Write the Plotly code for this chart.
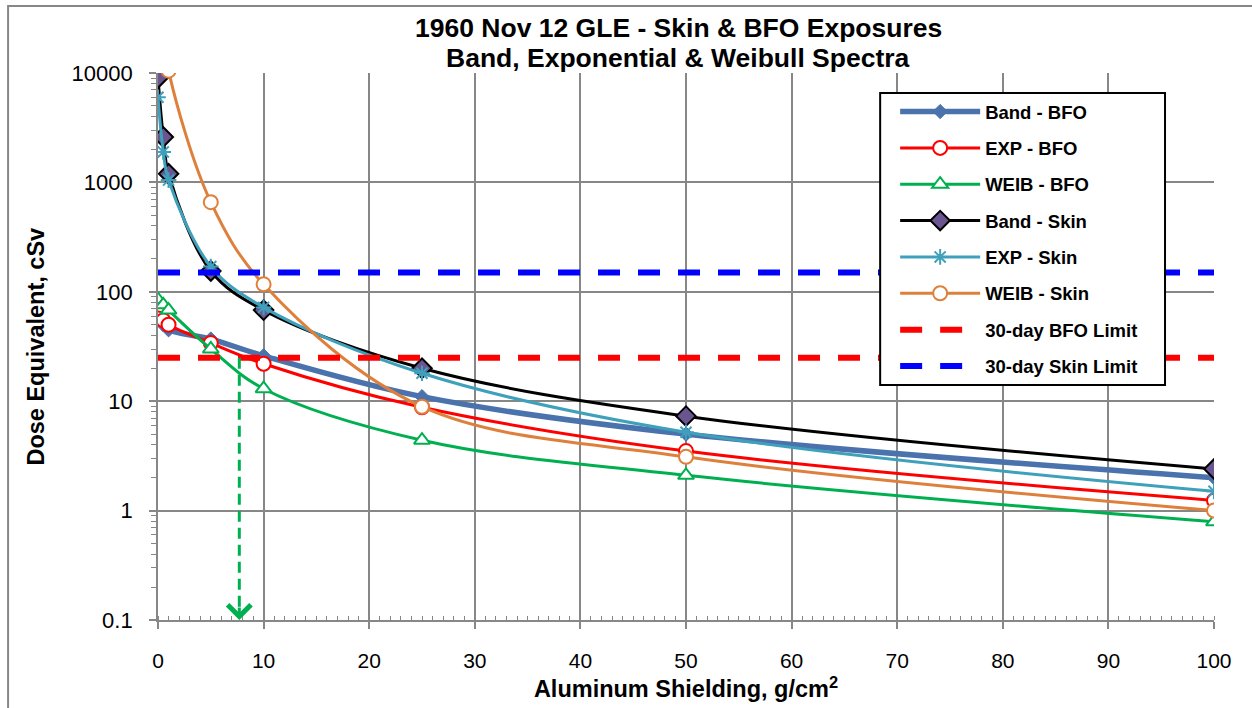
import plotly.graph_objects as go
import math

# ---------------- data ----------------
shielding = [0, 0.5, 1, 5, 10, 25, 50, 100]   # g/cm2

band_bfo  = [56, 50, 45, 37, 26, 11, 5.0, 2.0]
exp_bfo   = [57, 55, 50, 34, 22, 8.8, 3.5, 1.24]
weib_bfo  = [85, 76, 68, 30, 13, 4.4, 2.1, 0.79]
band_skin = [9000, 2600, 1200, 155, 68, 20, 7.3, 2.4]
exp_skin  = [6000, 1900, 1050, 170, 72, 18, 5.2, 1.5]
weib_skin = [60000, 25000, 10500, 660, 117, 8.9, 3.1, 1.0]

limit_x = [0, 100]
bfo_limit = 25
skin_limit = 150

# arrow marking the shielding needed for WEIB - BFO to reach the BFO limit
arrow_x = 7.7
arrow_top = 25
arrow_bottom = 0.1

y_tickvals = [0.1, 1, 10, 100, 1000, 10000]
y_ticktext = ["0.1", "1", "10", "100", "1000", "10000"]
x_tickvals = list(range(0, 101, 10))

title_lines = ["1960 Nov 12 GLE - Skin & BFO Exposures", "Band, Exponential & Weibull Spectra"]
x_title = "Aluminum Shielding, g/cm<sup>2</sup>"
y_title = "Dose Equivalent, cSv"

# ---------------- layout geometry (pixels) ----------------
W, H = 1252, 708
L, R, T, B = 157.5, 1214, 73, 620
pw, ph = R - L, B - T

def px2paper_x(px):
    return (px - L) / pw

def px2paper_y(py):
    return (B - py) / ph

FONT = "Liberation Sans, Arial, sans-serif"
GRID = "#878787"
PAD = "\u00a0\u00a0"   # widen gap between y tick labels and axis

fig = go.Figure()

def add(name, y, color, width, symbol, msize, mfill, mline, mlw, group):
    fig.add_trace(go.Scatter(
        x=shielding, y=y, name=name, mode="lines+markers",
        line=dict(color=color, width=width, shape="spline", smoothing=1),
        marker=dict(symbol=symbol, size=msize, color=mfill,
                    line=dict(color=mline, width=mlw)),
        legendgroup=group, cliponaxis=True,
    ))

add("Band - BFO", band_bfo, "#4A72AC", 5.5, "diamond", 11, "#4A72AC", "#4A72AC", 1, "g1")
add("EXP - BFO", exp_bfo, "#FF0000", 3, "circle", 14, "white", "#FF0000", 2, "g2")
add("WEIB - BFO", weib_bfo, "#00B050", 3, "triangle-up", 14, "white", "#00B050", 2, "g3")
add("Band - Skin", band_skin, "#000000", 3, "diamond", 15, "#6A5590", "#000000", 2, "g4")
add("EXP - Skin", exp_skin, "#3FA0BC", 3, "asterisk-open", 13, "#3FA0BC", "#3FA0BC", 2, "g5")
add("WEIB - Skin", weib_skin, "#DE803C", 3, "circle", 14, "white", "#DE803C", 2, "g6")

fig.add_trace(go.Scatter(
    x=limit_x, y=[bfo_limit] * len(limit_x), name="30-day BFO Limit", mode="lines",
    line=dict(color="#FF0000", width=6, dash="22px,18px"), legendgroup="g7"))
fig.add_trace(go.Scatter(
    x=limit_x, y=[skin_limit] * len(limit_x), name="30-day Skin Limit", mode="lines",
    line=dict(color="#0000FF", width=6, dash="22px,18px"), legendgroup="g8"))

# dashed green arrow shaft
fig.add_trace(go.Scatter(
    x=[arrow_x, arrow_x], y=[arrow_top, arrow_bottom * 1.04], mode="lines",
    line=dict(color="#00B050", width=3, dash="11px,6px"), showlegend=False,
    hoverinfo="skip"))
# arrow head
fig.add_annotation(
    x=arrow_x, y=math.log10(arrow_bottom), xref="x", yref="y",
    ax=0, ay=-14, axref="pixel", ayref="pixel",
    showarrow=True, arrowhead=4, arrowsize=1.5, arrowwidth=3, arrowcolor="#00B050",
    text="")

# title lines as annotations (pixel placement)
for txt, yc in zip(title_lines, [28, 58]):
    fig.add_annotation(
        text="<b>" + txt + "</b>", xref="paper", yref="paper",
        x=px2paper_x(678), y=px2paper_y(yc), xanchor="center", yanchor="middle",
        showarrow=False, font=dict(size=26.5, family=FONT, color="black"))

# y axis title
fig.add_annotation(
    text="<b>" + y_title + "</b>", xref="paper", yref="paper", textangle=-90,
    x=px2paper_x(35), y=px2paper_y(347), xanchor="center", yanchor="middle",
    showarrow=False, font=dict(size=23.5, family=FONT, color="black"))

minor_y = [k * 10 ** e for e in range(-1, 4) for k in range(2, 10)]

fig.update_layout(
    width=W, height=H,
    margin=dict(l=L, r=W - R, t=T, b=H - B, autoexpand=False),
    paper_bgcolor="white", plot_bgcolor="white",
    font=dict(family=FONT, color="black"),
    showlegend=True,
    legend=dict(
        x=px2paper_x(895), y=px2paper_y(93), xanchor="left", yanchor="top",
        bgcolor="rgba(0,0,0,0)", borderwidth=0,
        font=dict(size=18.5, family=FONT, color="black", weight="bold"),
        traceorder="grouped", tracegroupgap=9.3, itemwidth=80),
    xaxis=dict(
        range=[0, 100], tickvals=x_tickvals, ticks="outside", ticklen=7,
        tickcolor=GRID, tickwidth=1.5,
        showgrid=True, gridcolor=GRID, gridwidth=1.5,
        showline=True, linecolor=GRID, linewidth=1.5, zeroline=False,
        tickfont=dict(size=21, family=FONT, color="black"), ticklabelstandoff=14,
        minor=dict(dtick=1, ticks="inside", ticklen=4, tickcolor=GRID, tickwidth=1.2, showgrid=False),
        title=dict(text="<b>" + x_title + "</b>", standoff=10,
                   font=dict(size=23.5, family=FONT, color="black"))),
    yaxis=dict(
        type="log", range=[-1, 4], tickvals=y_tickvals,
        ticktext=[t + PAD for t in y_ticktext],
        ticks="outside", ticklen=7, tickcolor=GRID, tickwidth=1.5,
        showgrid=True, gridcolor=GRID, gridwidth=1.5,
        showline=True, linecolor=GRID, linewidth=1.5, zeroline=False,
        tickfont=dict(size=22, family=FONT, color="black"),
        minor=dict(tickvals=minor_y, ticks="outside", ticklen=5, tickcolor=GRID, tickwidth=1.2, showgrid=False)),
    shapes=[
        # outer chart border
        dict(type="rect", xref="paper", yref="paper",
             x0=px2paper_x(7.5), x1=px2paper_x(1300), y0=px2paper_y(760), y1=px2paper_y(6),
             line=dict(color=GRID, width=2), fillcolor="rgba(0,0,0,0)", layer="below"),
        # legend box
        dict(type="rect", xref="paper", yref="paper",
             x0=px2paper_x(880), x1=px2paper_x(1165), y0=px2paper_y(385), y1=px2paper_y(93),
             line=dict(color="black", width=2), fillcolor="white", layer="above"),
    ],
)

fig.write_html("out.html", config={"displayModeBar": False},
               post_script="document.body.style.margin='0';")
